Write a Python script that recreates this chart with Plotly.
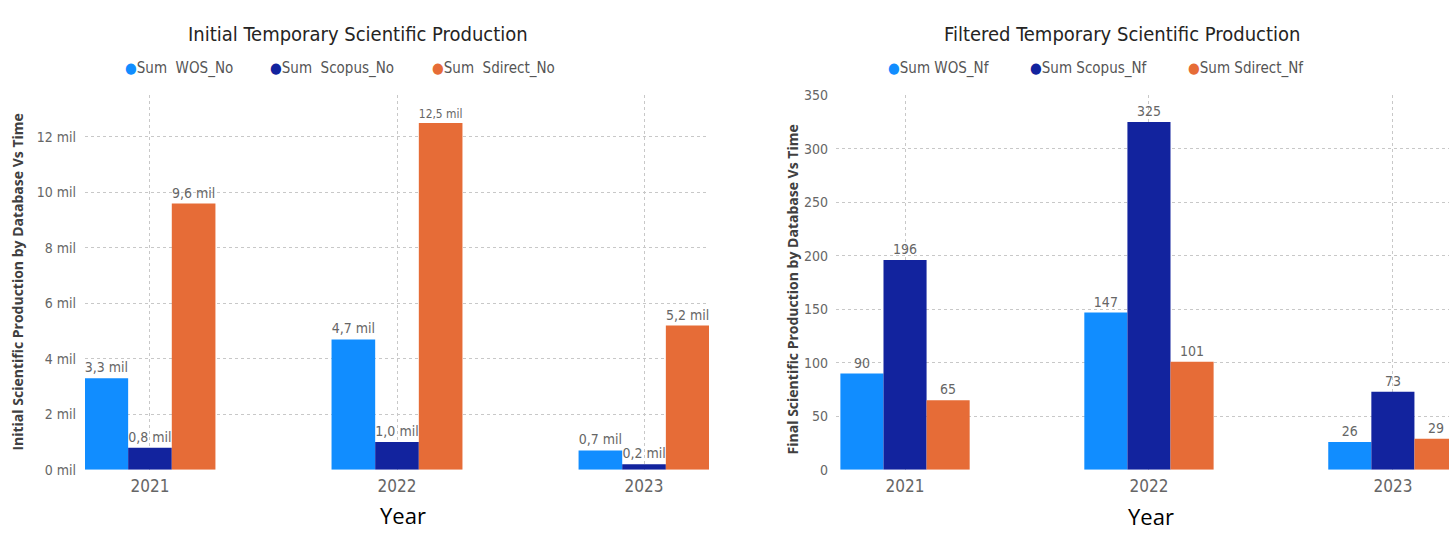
import plotly.graph_objects as go

# ---------------- data ----------------
years = ["2021", "2022", "2023"]

# Initial production (millions)
wos_no = [3.3, 4.7, 0.7]
scopus_no = [0.8, 1.0, 0.2]
sdirect_no = [9.6, 12.5, 5.2]
left_tick_vals = [0, 2, 4, 6, 8, 10, 12]

# Filtered production
wos_nf = [90, 147, 26]
scopus_nf = [196, 325, 73]
sdirect_nf = [65, 101, 29]
right_tick_vals = [0, 50, 100, 150, 200, 250, 300, 350]

left_names = ["Sum\u00a0 WOS_No", "Sum\u00a0 Scopus_No", "Sum\u00a0 Sdirect_No"]
right_names = ["Sum WOS_Nf", "Sum Scopus_Nf", "Sum Sdirect_Nf"]

colors = ["#118DFF", "#12239E", "#E66C37"]

W, H = 1449, 538
NARROW = "Liberation Sans Narrow, DejaVu Sans Condensed, sans-serif"
LABEL_GRAY = "#666666"


def fmt_mil(v):
    return f"{v:.1f}".replace(".", ",") + " mil"


fig = go.Figure()

for vals, name, col in zip([wos_no, scopus_no, sdirect_no], left_names, colors):
    fig.add_trace(go.Bar(
        x=years, y=vals, name=name, marker_color=col, marker_line_width=0,
        text=[fmt_mil(v) for v in vals], textposition="outside",
        textfont=dict(family=NARROW, size=14, color=LABEL_GRAY),
        xaxis="x", yaxis="y", showlegend=False, cliponaxis=False,
    ))

for vals, name, col in zip([wos_nf, scopus_nf, sdirect_nf], right_names, colors):
    fig.add_trace(go.Bar(
        x=years, y=vals, name=name, marker_color=col, marker_line_width=0,
        text=[str(v) for v in vals], textposition="outside",
        textfont=dict(family=NARROW, size=14, color=LABEL_GRAY),
        xaxis="x2", yaxis="y2", showlegend=False, cliponaxis=True,
    ))

ydom = [(H - 476) / H, (H - 90) / H]
grid = dict(showgrid=True, gridcolor="#c8c8c8", griddash="dot", gridwidth=1)


def legend_ann(name, col, x):
    return dict(
        text=f"<span style='color:{col}'>\u25CF</span>{name}",
        x=x / W, y=(H - 62) / H, xref="paper", yref="paper", showarrow=False,
        xanchor="left", yanchor="middle",
        font=dict(family=NARROW, size=15, color="#555555"),
    )


anns = []
for name, col, x in zip(left_names, colors, [123, 268, 430]):
    anns.append(legend_ann(name, col, x))
for name, col, x in zip(right_names, colors, [886, 1028, 1186]):
    anns.append(legend_ann(name, col, x))

anns += [
    dict(text="Initial Temporary Scientific Production", x=358 / W, y=(H - 27) / H,
         xref="paper", yref="paper", showarrow=False, xanchor="center", yanchor="middle",
         font=dict(family=NARROW, size=20, color="#252423")),
    dict(text="Filtered Temporary Scientific Production", x=1122 / W, y=(H - 27) / H,
         xref="paper", yref="paper", showarrow=False, xanchor="center", yanchor="middle",
         font=dict(family=NARROW, size=20, color="#252423")),
    dict(text="<b>Initial Scientific Production by Database Vs Time</b>", x=18 / W,
         y=(H - 283) / H, xref="paper", yref="paper", showarrow=False, textangle=-90,
         xanchor="center", yanchor="middle",
         font=dict(family="Open Sans", size=14, color="#404040")),
    dict(text="<b>Final Scientific Production by Database Vs Time</b>", x=792 / W,
         y=(H - 290) / H, xref="paper", yref="paper", showarrow=False, textangle=-90,
         xanchor="center", yanchor="middle",
         font=dict(family="Open Sans", size=14, color="#404040")),
    dict(text="Year", x=403 / W, y=(H - 523) / H, xref="paper", yref="paper",
         showarrow=False, xanchor="center", yanchor="middle",
         font=dict(family="Open Sans", size=22, color="black")),
    dict(text="Year", x=1151 / W, y=(H - 524) / H, xref="paper", yref="paper",
         showarrow=False, xanchor="center", yanchor="middle",
         font=dict(family="Open Sans", size=22, color="black")),
]

fig.update_layout(
    width=W, height=H,
    margin=dict(l=0, r=0, t=0, b=0),
    paper_bgcolor="white", plot_bgcolor="white",
    barmode="group", bargap=0.47, bargroupgap=0,
    showlegend=False,
    xaxis=dict(domain=[85 / W, 709 / W], range=[-0.263, 2.263], type="category",
               tickfont=dict(family=NARROW, size=17, color=LABEL_GRAY),
               ticks="", ticklabelstandoff=4, zeroline=False, showline=False, **grid),
    yaxis=dict(domain=ydom, range=[0, 13.5], tickvals=left_tick_vals,
               ticktext=[f"{v} mil" for v in left_tick_vals],
               tickfont=dict(family=NARROW, size=14, color=LABEL_GRAY),
               ticks="", ticklabelstandoff=8, zeroline=False, showline=False, **grid),
    xaxis2=dict(domain=[836 / W, 1.0], range=[-0.283, 2.230], type="category",
                tickfont=dict(family=NARROW, size=17, color=LABEL_GRAY),
                ticks="", ticklabelstandoff=4, zeroline=False, showline=False,
                anchor="y2", **grid),
    yaxis2=dict(domain=ydom, range=[0, 350], tickvals=right_tick_vals,
                tickfont=dict(family=NARROW, size=14, color=LABEL_GRAY),
                ticks="", ticklabelstandoff=7, zeroline=False, showline=False,
                anchor="x2", **grid),
    annotations=anns,
)

post = (
    "document.documentElement.style.overflow='hidden';"
    "document.body.style.margin='0';document.body.style.overflow='hidden';"
    "var gd=document.getElementById('{plot_id}');"
    "gd.style.position='fixed';gd.style.top='0px';gd.style.left='0px';"
)

fig.write_html("out.html", config={"displayModeBar": False}, post_script=post)
